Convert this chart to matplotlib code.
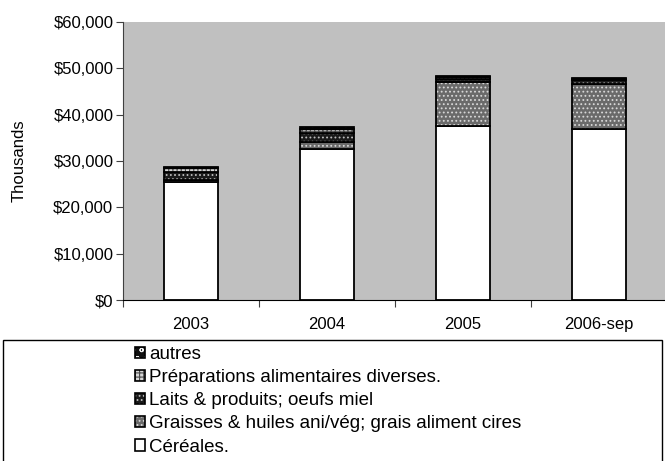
import matplotlib.pyplot as plt
import matplotlib.patches as mpatches
from matplotlib.ticker import FuncFormatter
from matplotlib.legend_handler import HandlerTuple

years = ["2003", "2004", "2005", "2006-sep"]
cereales = [25600, 32600, 37600, 37000]
graisses = [400, 1500, 9400, 9600]
laits = [1600, 2000, 800, 1000]
preparations = [900, 800, 400, 200]
autres = [300, 500, 200, 100]

plt.rcParams['font.family'] = ['Liberation Sans', 'DejaVu Sans']
plt.rcParams['hatch.linewidth'] = 0.8

# name, values, face colour, hatch colour, hatch
series = [
    ("Céréales.", cereales, "white", "white", None),
    ("Graisses & huiles ani/vég; grais aliment cires", graisses, "#6a6a6a", "#d8d8d8", "...."),
    ("Laits & produits; oeufs miel", laits, "#1a1a1a", "#bdbdbd", "...."),
    ("Préparations alimentaires diverses.", preparations, "#d6d6d6", "#4a4a4a", "++++"),
    ("autres", autres, "#111111", "#f0f0f0", "oo"),
]

fig = plt.figure(figsize=(6.65, 4.61), dpi=100)
ax = fig.add_axes([0.185, 0.349, 0.818, 0.603])
ax.set_facecolor("#c0c0c0")

x = list(range(len(years)))
bottom = [0] * len(years)
handles = []
for name, vals, fc, hc, h in series:
    ax.bar(x, vals, 0.4, bottom=bottom, color=fc, edgecolor=hc, hatch=h, linewidth=0)
    ax.bar(x, vals, 0.4, bottom=bottom, fill=False, edgecolor="black", linewidth=1.3)
    bottom = [b + v for b, v in zip(bottom, vals)]
    handles.append((mpatches.Patch(facecolor=fc, edgecolor=hc, hatch=h, linewidth=0),
                    mpatches.Patch(fill=False, edgecolor="black", linewidth=1.2)))

ax.set_xlim(-0.5, 3.5)
ax.set_ylim(0, 60000)
ax.set_yticks(range(0, 60001, 10000))
ax.yaxis.set_major_formatter(FuncFormatter(lambda v, p: f"${v:,.0f}"))
ax.set_xticks([-0.5, 0.5, 1.5, 2.5, 3.5])
ax.set_xticklabels([])
ax.set_xticks(x, minor=True)
ax.set_xticklabels(years, minor=True)
ax.tick_params(axis="x", which="minor", length=0, pad=12, labelsize=12)
ax.tick_params(axis="x", which="major", length=5, color="#404040")
ax.tick_params(axis="y", length=5, color="#404040", labelsize=12, pad=2)
ax.set_ylabel("Thousands", fontsize=12, labelpad=19)

for s in ["top", "right"]:
    ax.spines[s].set_visible(False)
ax.spines["left"].set_color("#404040")
ax.spines["bottom"].set_color("black")

fig.add_artist(mpatches.Rectangle((0.005, -0.01), 0.99, 0.273, transform=fig.transFigure,
                                  fill=False, edgecolor="black", linewidth=1))
fig.legend(handles[::-1], [s[0] for s in series][::-1],
           handler_map={tuple: HandlerTuple(ndivide=1)},
           loc="upper left", bbox_to_anchor=(0.197, 0.258), frameon=False,
           fontsize=13.5, handlelength=0.55, handleheight=0.55, handletextpad=0.2,
           labelspacing=0.33, borderaxespad=0, borderpad=0.2)

fig.savefig("out.png", dpi=100)
